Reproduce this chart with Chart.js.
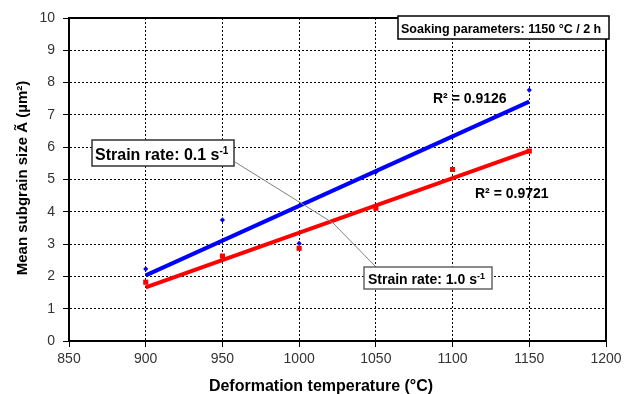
<!DOCTYPE html>
<html>
<head>
<meta charset="utf-8">
<script src="https://cdn.jsdelivr.net/npm/chart.js@4/dist/chart.umd.min.js"></script>
<style>
html, body { margin: 0; padding: 0; background: #fff; }
</style>
</head>
<body>
<canvas id="subgrainChart" width="628" height="394"></canvas>
<script>
// values
const temperatures = [900, 950, 1000, 1050, 1100, 1150];
const sizeRate01 = [2.23, 3.75, 3.02, 5.23, 6.33, 7.77];
const sizeRate10 = [1.82, 2.63, 2.87, 4.11, 5.31, 5.88];
const xRange = [850, 1200, 50];
const yRange = [0, 10, 1];
const r2Labels = ['R² = 0.9126', 'R² = 0.9721'];

const FONT = '"Liberation Sans", Arial, sans-serif';

function toPoints(xs, ys) {
    return xs.map(function(x, i) { return { x: x, y: ys[i] }; });
}

// least squares trend line, end points at the first and last temperature
function trendLine(xs, ys) {
    var n = xs.length;
    var mx = xs.reduce((a, b) => a + b, 0) / n;
    var my = ys.reduce((a, b) => a + b, 0) / n;
    var sxy = 0, sxx = 0;
    for (var i = 0; i < n; i++) {
        sxy += (xs[i] - mx) * (ys[i] - my);
        sxx += (xs[i] - mx) * (xs[i] - mx);
    }
    var b = sxy / sxx;
    var a = my - b * mx;
    return [xs[0], xs[n - 1]].map(function(x) { return { x: x, y: a + b * x }; });
}

// text with a superscript tail, e.g. s-1
function drawSup(ctx, main, sup, x, y, size) {
    ctx.font = 'bold ' + size + 'px ' + FONT;
    ctx.fillText(main, x, y);
    var w = ctx.measureText(main).width;
    ctx.font = 'bold ' + Math.round(size * 0.62) + 'px ' + FONT;
    ctx.fillText(sup, x + w, y - size * 0.38);
}

function box(ctx, x, y, w, h, color) {
    ctx.fillStyle = '#fff';
    ctx.fillRect(x, y, w, h);
    ctx.strokeStyle = color;
    ctx.lineWidth = 1.5;
    ctx.strokeRect(x, y, w, h);
}

const annotations = {
    id: 'annotations',
    afterDatasetsDraw: function(chart) {
        var ctx = chart.ctx;
        var a = chart.chartArea;
        ctx.save();
        // outer frame (top, right)
        ctx.strokeStyle = '#000';
        ctx.lineWidth = 2;
        ctx.beginPath();
        ctx.moveTo(a.left, a.top);
        ctx.lineTo(a.right, a.top);
        ctx.lineTo(a.right, a.bottom);
        ctx.stroke();

        // leader lines
        ctx.strokeStyle = '#808080';
        ctx.lineWidth = 1;
        ctx.beginPath();
        ctx.moveTo(235, 162);
        ctx.lineTo(333, 223);
        ctx.lineTo(375, 266);
        ctx.stroke();

        ctx.textBaseline = 'alphabetic';
        ctx.textAlign = 'left';

        box(ctx, 92, 140, 142, 26, '#333');
        ctx.fillStyle = '#000';
        drawSup(ctx, 'Strain rate: 0.1 s', '-1', 95, 160, 16);

        box(ctx, 364, 267, 128, 22, '#666');
        ctx.fillStyle = '#000';
        drawSup(ctx, 'Strain rate: 1.0 s', '-1', 368, 284, 14);

        box(ctx, 398, 16, 211, 23, '#000');
        ctx.fillStyle = '#000';
        ctx.font = 'bold 12.5px ' + FONT;
        ctx.fillText('Soaking parameters: 1150 °C / 2 h', 401, 33);

        ctx.font = 'bold 14px ' + FONT;
        ctx.fillText(r2Labels[0], 433, 103);
        ctx.fillText(r2Labels[1], 475, 198);

        // axis titles
        ctx.font = 'bold 16px ' + FONT;
        ctx.textAlign = 'center';
        ctx.fillText('Deformation temperature (°C)', 321, 391);
        ctx.save();
        ctx.translate(27, 178);
        ctx.rotate(-Math.PI / 2);
        ctx.font = 'bold 15px ' + FONT;
        ctx.fillText('Mean subgrain size Ã (µm²)', 0, 0);
        ctx.restore();
        ctx.restore();
    }
};

const gridStyle = {
    color: '#000',
    lineWidth: 1,
    tickColor: '#000',
    tickLength: 6,
    tickBorderDash: []
};

new Chart(document.getElementById('subgrainChart'), {
    type: 'scatter',
    data: {
        datasets: [
            {
                label: 'trend 0.1',
                type: 'line',
                data: trendLine(temperatures, sizeRate01),
                borderColor: '#0000ff',
                borderWidth: 4,
                pointRadius: 0,
                fill: false
            },
            {
                label: 'trend 1.0',
                type: 'line',
                data: trendLine(temperatures, sizeRate10),
                borderColor: '#ff0000',
                borderWidth: 4,
                pointRadius: 0,
                fill: false
            },
            {
                label: 'Strain rate 0.1',
                data: toPoints(temperatures, sizeRate01),
                pointStyle: 'rectRot',
                pointRadius: 2.6,
                backgroundColor: '#0000ff',
                borderColor: '#0000ff',
                borderWidth: 0
            },
            {
                label: 'Strain rate 1.0',
                data: toPoints(temperatures, sizeRate10),
                pointStyle: 'rect',
                pointRadius: 3.6,
                backgroundColor: '#ff0000',
                borderColor: '#ff0000',
                borderWidth: 0
            }
        ]
    },
    options: {
        responsive: false,
        animation: false,
        layout: { padding: { top: 18, right: 22, left: 0, bottom: 0 } },
        plugins: {
            legend: { display: false },
            tooltip: { enabled: false }
        },
        scales: {
            x: {
                type: 'linear',
                min: xRange[0],
                max: xRange[1],
                ticks: {
                    stepSize: xRange[2], color: '#333', padding: 4,
                    font: { family: FONT, size: 14 },
                    callback: function(v) { return String(v); }
                },
                grid: gridStyle,
                border: { color: '#000', width: 2, dash: [2, 2] },
                afterFit: function(scale) { scale.height = 53; }
            },
            y: {
                type: 'linear',
                min: yRange[0],
                max: yRange[1],
                ticks: {
                    stepSize: yRange[2], color: '#333', padding: 8,
                    font: { family: FONT, size: 14 },
                    callback: function(v) { return String(v); }
                },
                grid: gridStyle,
                border: { color: '#000', width: 2, dash: [2, 2] },
                afterFit: function(scale) { scale.width = 69; }
            }
        }
    },
    plugins: [annotations]
});
</script>
</body>
</html>
